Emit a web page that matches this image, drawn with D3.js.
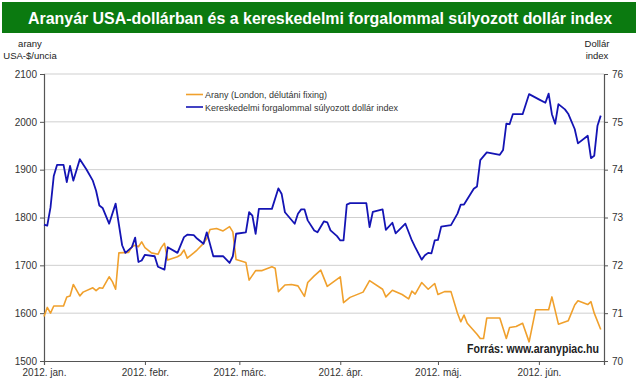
<!DOCTYPE html>
<html>
<head>
<meta charset="utf-8">
<script src="https://cdn.jsdelivr.net/npm/d3@7"></script>
<style>
  body { margin: 0; background: #fff; }
  svg { font-family: Arial, "Liberation Sans", sans-serif; }
</style>
</head>
<body>
<svg id="chart"></svg>
<script>
// arany (London, délutáni fixing), USD/uncia
var goldDates = ["2012-01-01","2012-01-02","2012-01-03","2012-01-04","2012-01-07","2012-01-08","2012-01-09","2012-01-10","2012-01-12","2012-01-13",
  "2012-01-16","2012-01-17","2012-01-18","2012-01-19","2012-01-21","2012-01-22","2012-01-23","2012-01-24","2012-01-27","2012-01-28",
  "2012-01-29","2012-01-30","2012-01-31","2012-02-01","2012-02-03","2012-02-05","2012-02-06","2012-02-07","2012-02-08","2012-02-11",
  "2012-02-12","2012-02-13","2012-02-14","2012-02-16","2012-02-17","2012-02-19","2012-02-20","2012-02-21","2012-02-23","2012-02-25",
  "2012-02-27","2012-02-28","2012-02-29","2012-03-03","2012-03-04","2012-03-06","2012-03-08","2012-03-11","2012-03-12","2012-03-13",
  "2012-03-15","2012-03-17","2012-03-19","2012-03-21","2012-03-22","2012-03-24","2012-03-26","2012-03-28","2012-03-30","2012-04-01",
  "2012-04-02","2012-04-04","2012-04-08","2012-04-10","2012-04-14","2012-04-15","2012-04-17","2012-04-20","2012-04-22","2012-04-23",
  "2012-04-24","2012-04-26","2012-04-28","2012-04-30","2012-05-01","2012-05-03","2012-05-05","2012-05-07","2012-05-08","2012-05-09",
  "2012-05-10","2012-05-13","2012-05-14","2012-05-15","2012-05-16","2012-05-20","2012-05-22","2012-05-23","2012-05-25","2012-05-27",
  "2012-05-29","2012-05-31","2012-06-04","2012-06-05","2012-06-07","2012-06-10","2012-06-12","2012-06-13","2012-06-16","2012-06-17",
  "2012-06-18","2012-06-20"];
var goldValues = [1593,1612,1600,1615,1615,1634,1636,1660,1636,1644,
  1653,1647,1653,1652,1676,1666,1650,1726,1727,1739,
  1742,1739,1749,1737,1726,1723,1737,1746,1711,1718,
  1722,1732,1715,1726,1732,1746,1756,1775,1777,1772,
  1781,1770,1712,1706,1669,1689,1689,1697,1694,1645,
  1659,1660,1657,1635,1664,1678,1690,1656,1666,1676,
  1622,1633,1644,1668,1650,1634,1648,1639,1630,1646,
  1640,1664,1650,1662,1639,1645,1645,1600,1582,1596,
  1579,1556,1547,1547,1590,1590,1547,1570,1572,1579,
  1540,1607,1607,1634,1577,1584,1617,1626,1618,1624,
  1600,1566];

// kereskedelmi forgalommal súlyozott dollár index
var dollarDates = ["2012-01-01","2012-01-02","2012-01-03","2012-01-04","2012-01-05","2012-01-07","2012-01-08","2012-01-09","2012-01-10","2012-01-12",
  "2012-01-14","2012-01-16","2012-01-17","2012-01-18","2012-01-19","2012-01-21","2012-01-23","2012-01-25","2012-01-26","2012-01-28",
  "2012-01-29","2012-01-30","2012-01-31","2012-02-01","2012-02-04","2012-02-05","2012-02-07","2012-02-08","2012-02-11","2012-02-13",
  "2012-02-14","2012-02-16","2012-02-17","2012-02-19","2012-02-20","2012-02-22","2012-02-25","2012-02-27","2012-02-28","2012-02-29",
  "2012-03-03","2012-03-04","2012-03-05","2012-03-06","2012-03-07","2012-03-11","2012-03-13","2012-03-14","2012-03-15","2012-03-18",
  "2012-03-19","2012-03-20","2012-03-21","2012-03-22","2012-03-24","2012-03-25","2012-03-27","2012-03-28","2012-03-29","2012-03-31",
  "2012-04-01","2012-04-02","2012-04-03","2012-04-04","2012-04-09","2012-04-10","2012-04-11","2012-04-14","2012-04-15","2012-04-17",
  "2012-04-18","2012-04-21","2012-04-23","2012-04-24","2012-04-26","2012-04-27","2012-04-28","2012-04-29","2012-04-30","2012-05-01",
  "2012-05-02","2012-05-05","2012-05-07","2012-05-08","2012-05-09","2012-05-12","2012-05-13","2012-05-14","2012-05-16","2012-05-20",
  "2012-05-21","2012-05-22","2012-05-23","2012-05-24","2012-05-27","2012-05-29","2012-06-01","2012-06-03","2012-06-04","2012-06-05",
  "2012-06-06","2012-06-07","2012-06-09","2012-06-10","2012-06-12","2012-06-13","2012-06-16","2012-06-17","2012-06-18","2012-06-19",
  "2012-06-20"];
var dollarValues = [72.85,72.83,73.21,73.87,74.10,74.10,73.74,74.08,73.77,74.22,
  74.01,73.77,73.56,73.25,73.20,72.87,73.29,72.42,72.26,72.38,
  72.58,72.07,72.10,72.22,72.19,71.97,71.91,72.38,72.26,72.59,
  72.64,72.63,72.56,72.45,72.69,72.19,72.19,72.05,72.19,72.66,
  72.69,73.11,73.04,72.66,73.18,73.18,73.61,73.49,73.11,72.87,
  73.08,73.17,73.17,72.94,72.73,72.69,72.92,72.90,72.73,72.61,
  72.52,72.52,73.27,73.30,73.30,72.80,73.12,73.17,72.74,72.89,
  72.67,72.87,72.52,72.38,72.12,72.21,72.26,72.25,72.52,72.53,
  72.81,72.84,73.08,73.27,73.27,73.60,73.65,74.20,74.36,74.31,
  74.41,74.96,74.95,75.16,75.16,75.58,75.47,75.40,75.59,75.16,
  74.96,75.37,75.26,75.17,74.85,74.55,74.71,74.24,74.29,74.92,
  75.13];

var monthTicks = ["2012-01-01","2012-02-01","2012-03-01","2012-04-01","2012-05-01","2012-06-01"];
var monthLabels = ["2012. jan.","2012. febr.","2012. márc.","2012. ápr.","2012. máj.","2012. jún."];
var goldTicks = [1500,1600,1700,1800,1900,2000,2100];
var dollarTicks = [70,71,72,73,74,75,76];
var seriesNames = ["Arany (London, délutáni fixing)","Kereskedelmi forgalommal súlyozott dollár index"];

var width = 639;
var height = 387;
var plotLeft = 44, plotRight = 604, plotTop = 74, plotBottom = 361;
var goldColor = "#f0a02c";
var blueColor = "#1414b4";

var parse = d3.timeParse("%Y-%m-%d");

var svg = d3.select("#chart")
            .attr("width",width)
            .attr("height",height);

// title banner
svg.append("rect")
   .attr("x",2).attr("y",2)
   .attr("width",634).attr("height",31)
   .attr("fill","#0b7a10");
svg.append("text")
   .text("Aranyár USA-dollárban és a kereskedelmi forgalommal súlyozott dollár index")
   .attr("x",320).attr("y",24)
   .attr("text-anchor","middle")
   .attr("fill","white")
   .attr("font-size","16px")
   .attr("font-weight","bold")
   .attr("textLength",584)
   .attr("lengthAdjust","spacingAndGlyphs");

var x = d3.scaleTime()
          .domain([parse("2012-01-01"),parse("2012-06-21")])
          .range([plotLeft,plotRight]);
var yGold = d3.scaleLinear().domain([1500,2100]).range([plotBottom,plotTop]);
var yDollar = d3.scaleLinear().domain([70,76]).range([plotBottom,plotTop]);

// gridlines
svg.append("g")
   .selectAll("line")
   .data(goldTicks.slice(1))
   .enter()
   .append("line")
   .attr("x1",plotLeft).attr("x2",plotRight)
   .attr("y1",function(d){ return yGold(d); })
   .attr("y2",function(d){ return yGold(d); })
   .attr("stroke","#cfcfcf")
   .attr("stroke-width",1);

// axes
var leftAxis = d3.axisLeft(yGold).tickValues(goldTicks).tickFormat(d3.format("d"))
                 .tickSize(4).tickPadding(3);
var rightAxis = d3.axisRight(yDollar).tickValues(dollarTicks).tickFormat(d3.format("d"))
                  .tickSize(4).tickPadding(4);
var bottomAxis = d3.axisBottom(x)
                   .tickValues(monthTicks.map(parse))
                   .tickFormat(function(d,i){ return monthLabels[i]; })
                   .tickSize(4).tickPadding(4);

var styleAxis = function(g){
  g.selectAll("path").attr("stroke","#555").attr("stroke-width",1.2);
  g.selectAll("line").attr("stroke","#555");
  g.selectAll("text").attr("fill","#333").attr("font-size","10px")
   .attr("font-family","Arial, 'Liberation Sans', sans-serif");
};

svg.append("g").attr("transform","translate("+plotLeft+",0)").call(leftAxis).call(styleAxis);
svg.append("g").attr("transform","translate("+plotRight+",0)").call(rightAxis).call(styleAxis);
svg.append("g").attr("transform","translate(0,"+plotBottom+")").call(bottomAxis).call(styleAxis);

// axis titles
var axisTitle = function(txt,xx,yy){
  svg.append("text").text(txt)
     .attr("x",xx).attr("y",yy)
     .attr("text-anchor","middle")
     .attr("fill","#222")
     .attr("font-size","9.5px");
};
axisTitle("arany",30,47);
axisTitle("USA-$/uncia",30,59);
axisTitle("Dollár",597,47);
axisTitle("index",597,59);

// lines
var goldData = goldDates.map(function(d,i){ return {date: parse(d), value: goldValues[i]}; });
var dollarData = dollarDates.map(function(d,i){ return {date: parse(d), value: dollarValues[i]}; });

var goldLine = d3.line()
                 .x(function(d){ return x(d.date); })
                 .y(function(d){ return yGold(d.value); });
var dollarLine = d3.line()
                   .x(function(d){ return x(d.date); })
                   .y(function(d){ return yDollar(d.value); });

svg.append("path")
   .datum(goldData)
   .attr("d",goldLine)
   .attr("fill","none")
   .attr("stroke",goldColor)
   .attr("stroke-width",1.6)
   .attr("stroke-linejoin","round");

svg.append("path")
   .datum(dollarData)
   .attr("d",dollarLine)
   .attr("fill","none")
   .attr("stroke",blueColor)
   .attr("stroke-width",1.8)
   .attr("stroke-linejoin","round");

// legend
var legend = svg.append("g");
legend.selectAll("line")
      .data([goldColor,blueColor])
      .enter()
      .append("line")
      .attr("x1",186).attr("x2",203)
      .attr("y1",function(d,i){ return 94.5 + i*12.5; })
      .attr("y2",function(d,i){ return 94.5 + i*12.5; })
      .attr("stroke",function(d){ return d; })
      .attr("stroke-width",1.6);
legend.selectAll("text")
      .data(seriesNames)
      .enter()
      .append("text")
      .text(function(d){ return d; })
      .attr("x",205)
      .attr("y",function(d,i){ return 98 + i*12.5; })
      .attr("fill","#333")
      .attr("font-size","9px");

// source
svg.append("text")
   .text("Forrás: www.aranypiac.hu")
   .attr("x",599).attr("y",353)
   .attr("text-anchor","end")
   .attr("fill","#222")
   .attr("font-size","12px")
   .attr("font-weight","bold")
   .attr("textLength",132)
   .attr("lengthAdjust","spacingAndGlyphs");
</script>
</body>
</html>
